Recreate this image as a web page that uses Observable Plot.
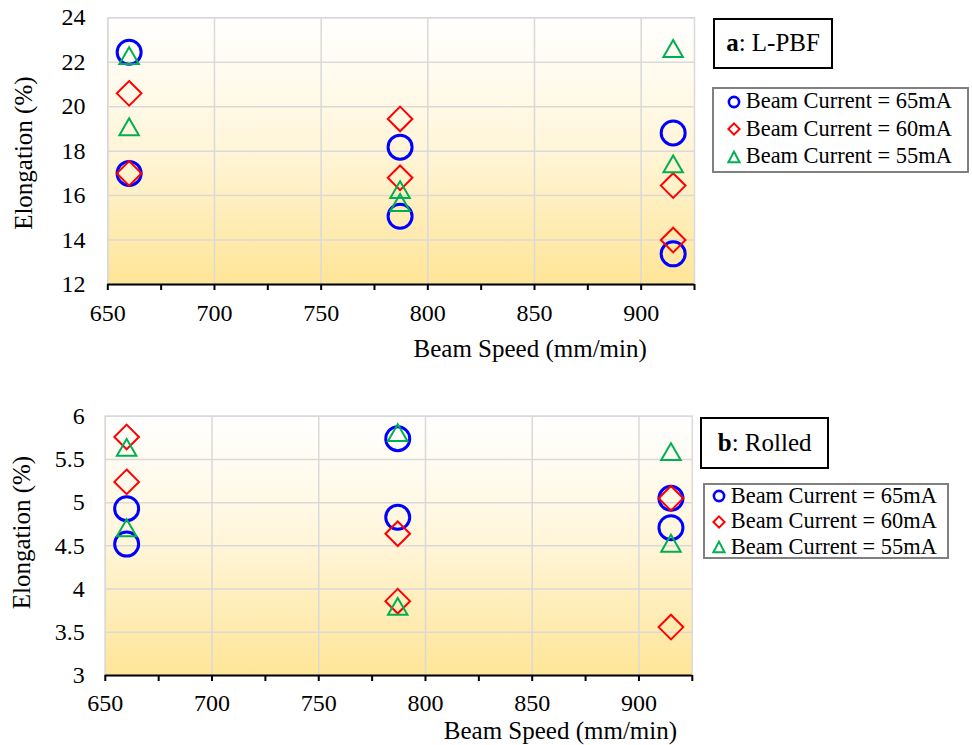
<!DOCTYPE html>
<html><head><meta charset="utf-8">
<script src="https://cdn.jsdelivr.net/npm/d3@7"></script>
<script src="https://cdn.jsdelivr.net/npm/@observablehq/plot@0.6"></script>
<style>
body{margin:0;background:#fff;font-family:"Liberation Serif","Tinos","Times New Roman","Nimbus Roman","DejaVu Serif",serif;color:#000;}
#wrap{position:relative;width:972px;height:745px;overflow:hidden;background:#fff;}
.panel{position:absolute;left:0;}
.tbox{position:absolute;border:2px solid #000;box-sizing:border-box;font-size:25px;display:flex;align-items:center;justify-content:center;background:#fff;white-space:nowrap;}
.lbox{position:absolute;border:2px solid #808080;box-sizing:border-box;background:#fff;}
.row{position:absolute;height:24px;display:flex;align-items:center;font-size:22.4px;white-space:nowrap;line-height:1;}
.row svg{flex:none;}
.row span{margin-left:3.5px;}
</style></head>
<body><div id="wrap"></div>
<script>
// ---------------- data ----------------
const pointSpeeds = [660, 660, 787, 787, 915, 915];
const seriesNames = ["Beam Current = 65mA", "Beam Current = 60mA", "Beam Current = 55mA"];
const seriesColors = ["#0000FF", "#FF0000", "#00B050"];
const seriesSymbols = ["circle", "diamond2", "triangle2"];

// a: L-PBF elongation (%)
const lpbf65 = [22.45, 17.0, 18.18, 15.07, 18.82, 13.38];
const lpbf60 = [20.6, 17.0, 19.45, 16.8, 16.45, 14.0];
const lpbf55 = [22.3, 19.1, 16.27, 15.69, 22.62, 17.43];

// b: Rolled elongation (%)
const rolled65 = [4.93, 4.52, 5.74, 4.83, 5.05, 4.71];
const rolled60 = [5.76, 5.24, 4.64, 3.86, 5.05, 3.56];
const rolled55 = [5.64, 4.71, 5.81, 3.80, 5.59, 4.53];

const xDomain = [650, 925];
const xTickLabels = [650, 700, 750, 800, 850, 900];
const xMinorTicks = [650, 675, 700, 725, 750, 775, 800, 825, 850, 875, 900, 925];
const yTicksTop = [12, 14, 16, 18, 20, 22, 24];
const yTicksBottom = [3, 3.5, 4, 4.5, 5, 5.5, 6];
const xTitle = "Beam Speed (mm/min)";
const yTitle = "Elongation (%)";

const FONT = "'Liberation Serif','Tinos','Times New Roman','Nimbus Roman','DejaVu Serif',serif";

function rows(series) {
  const out = [];
  series.forEach((vals, s) => vals.forEach((v, i) => out.push({speed: pointSpeeds[i], value: v, s})));
  return out;
}

const symbolR = {circle: 12, diamond2: 11.1, triangle2: 9.3};
const symbolW = {circle: 3, diamond2: 2, triangle2: 2};

function panel(cfg) {
  const data = rows(cfg.series);
  const dots = seriesSymbols.map((sym, s) => Plot.dot(data.filter(d => d.s === s), {
    x: "speed", y: "value", symbol: sym, r: symbolR[sym], stroke: seriesColors[s],
    strokeWidth: symbolW[sym], fill: "none",
    dy: sym === "triangle2" ? 0.302 * symbolR[sym] : 0
  }));
  const svg = Plot.plot({
    width: 972, height: cfg.height,
    marginLeft: cfg.ml, marginRight: 972 - cfg.mr, marginTop: cfg.mt, marginBottom: cfg.mb,
    x: {domain: xDomain},
    y: {domain: cfg.yDomain},
    style: {fontFamily: FONT, fontSize: "24px", color: "#000", background: "transparent", overflow: "visible"},
    marks: [
      Plot.frame({fill: `url(#${cfg.grad})`, stroke: "#D9D9D9", strokeWidth: 1.5}),
      Plot.gridX(xTickLabels, {stroke: "#D9D9D9", strokeOpacity: 1, strokeWidth: 1.5}),
      Plot.gridY(cfg.yTicks, {stroke: "#D9D9D9", strokeOpacity: 1, strokeWidth: 1.5}),
      Plot.ruleY([cfg.yDomain[0]], {stroke: "#000", strokeWidth: 2.2}),
      Plot.axisX(xMinorTicks, {tickSize: 6, strokeWidth: 2, fill: "none", label: null}),
      Plot.axisX(xTickLabels, {tickSize: 0, tickPadding: cfg.xPad, fontSize: 24, label: null, tickFormat: d => String(d)}),
      Plot.axisY(cfg.yTicks, {tickSize: 0, tickPadding: cfg.yPad, fontSize: 24, label: null, tickFormat: d => String(d)}),
      ...dots,
      Plot.text([xTitle], {text: d => d, frameAnchor: "bottom", dx: cfg.xlDx, dy: cfg.xlDy, fontSize: 25, lineAnchor: "middle", textAnchor: "middle"}),
      Plot.text([yTitle], {text: d => d, frameAnchor: "left", rotate: -90, dx: cfg.ylDx, dy: cfg.ylDy, fontSize: 25, lineAnchor: "middle", textAnchor: "middle"})
    ]
  });
  d3.select(svg).insert("defs", ":first-child").html(
    `<linearGradient id="${cfg.grad}" x1="0" y1="0" x2="0" y2="1"><stop offset="0" stop-color="#FFFFFF"/><stop offset="0.5" stop-color="#FFF5D8"/><stop offset="1" stop-color="#FFE597"/></linearGradient>`);
  svg.classList.add("panel");
  svg.style.top = cfg.top + "px";
  svg.style.fontFamily = FONT;
  return svg;
}

const wrap = document.getElementById("wrap");
wrap.appendChild(panel({
  top: 0, height: 372, ml: 107.3, mr: 694, mt: 17.3, mb: 88,
  yDomain: [12, 24], yTicks: yTicksTop, series: [lpbf65, lpbf60, lpbf55], grad: "gA",
  xPad: 19.6, yPad: 22.3, xlDx: 129, xlDy: 64.7, ylDx: -84, ylDy: 2
}));
wrap.appendChild(panel({
  top: 372, height: 373, ml: 104.8, mr: 691.8, mt: 43.7, mb: 70,
  yDomain: [3, 6], yTicks: yTicksBottom, series: [rolled65, rolled60, rolled55], grad: "gB",
  xPad: 18.8, yPad: 20.5, xlDx: 161.6, xlDy: 55, ylDx: -83.3, ylDy: -13.3
}));

function markerSvg(s) {
  const c = seriesColors[s];
  let shape;
  if (s === 0) shape = `<circle cx="8" cy="8" r="5.1" fill="none" stroke="${c}" stroke-width="2.6"/>`;
  else if (s === 1) shape = `<path d="M8,2.4L13.6,8L8,13.6L2.4,8Z" fill="none" stroke="${c}" stroke-width="2"/>`;
  else shape = `<path d="M8,2.6L13.6,13.2L2.4,13.2Z" fill="none" stroke="${c}" stroke-width="2"/>`;
  return `<svg width="16" height="16" viewBox="0 0 16 16">${shape}</svg>`;
}

function addTitle(html, left, top, w, h) {
  const d = document.createElement("div");
  d.className = "tbox";
  Object.assign(d.style, {left: left + "px", top: top + "px", width: w + "px", height: h + "px"});
  d.innerHTML = html;
  wrap.appendChild(d);
}
function addLegend(left, top, w, h, markerX, rowYs) {
  const b = document.createElement("div");
  b.className = "lbox";
  Object.assign(b.style, {left: left + "px", top: top + "px", width: w + "px", height: h + "px"});
  wrap.appendChild(b);
  seriesNames.forEach((name, s) => {
    const r = document.createElement("div");
    r.className = "row";
    r.style.left = (markerX - 8) + "px";
    r.style.top = (rowYs[s] - 12) + "px";
    r.innerHTML = markerSvg(s) + `<span>${name}</span>`;
    wrap.appendChild(r);
  });
}

addTitle("<b>a</b>: L-PBF", 713.3, 17.5, 119.5, 51.8);
addLegend(712.3, 86.7, 257, 86.6, 734.3, [101.7, 129, 156.7]);
addTitle("<b>b</b>: Rolled", 700, 417.3, 129.3, 51.8);
addLegend(702.7, 482.7, 246, 76.6, 719.3, [496, 521.7, 547.3]);
</script>
</body></html>
